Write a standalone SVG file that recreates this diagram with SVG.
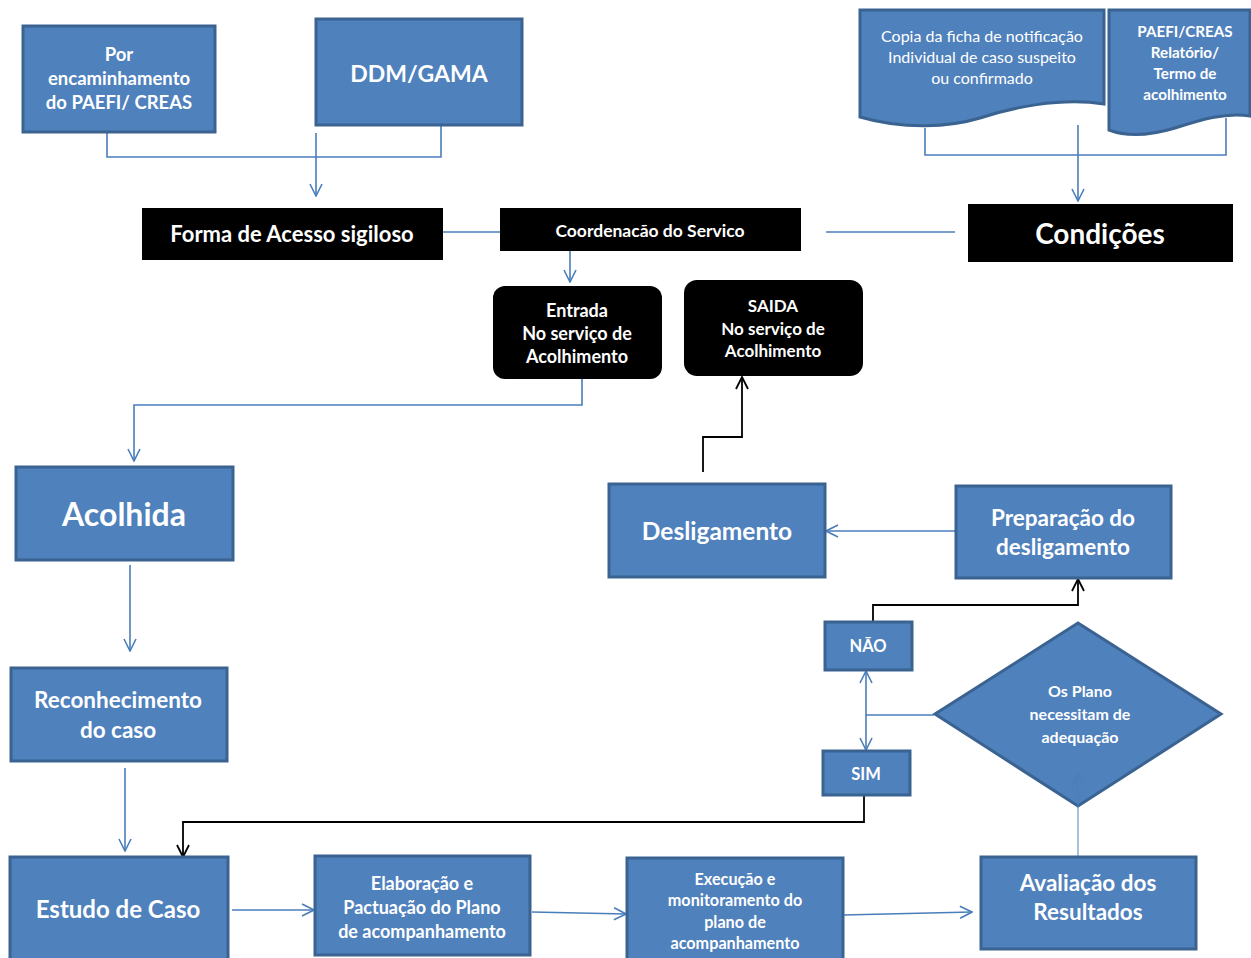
<svg xmlns="http://www.w3.org/2000/svg" width="1251" height="958" viewBox="0 0 1251 958">
<defs>
<marker id="ab" viewBox="0 0 14 14" refX="13" refY="7" markerWidth="14" markerHeight="14" markerUnits="userSpaceOnUse" orient="auto">
<path d="M1,1 L13,7 L1,13" fill="none" stroke="#4A7EBB" stroke-width="1.6"/>
</marker>
<marker id="ak" viewBox="0 0 14 14" refX="13" refY="7" markerWidth="14" markerHeight="14" markerUnits="userSpaceOnUse" orient="auto">
<path d="M1,1 L13,7 L1,13" fill="none" stroke="#000" stroke-width="1.8"/>
</marker>
</defs>
<style>
.b{fill:#4F81BD;stroke:#3A6391;stroke-width:3}
.k{fill:#000}
.t{font-family:Lato,"Open Sans",sans-serif;font-weight:bold;fill:#fff;text-anchor:middle}
.r{font-family:Lato,"Open Sans",sans-serif;font-weight:normal;fill:#fff;text-anchor:middle}
.cb{fill:none;stroke:#4A7EBB;stroke-width:1.6}
.ck{fill:none;stroke:#000;stroke-width:1.8}
</style>
<rect width="1251" height="958" fill="#fff"/>
<g id="connectors">
<path class="cb" d="M107,133 V157 H441 V125"/>
<path class="cb" d="M316,133 V196" marker-end="url(#ab)"/>
<path class="cb" d="M925,128 V155 H1226 V118"/>
<path class="cb" d="M1078,125 V201" marker-end="url(#ab)"/>
<path class="cb" d="M443,232 H500"/>
<path class="cb" d="M826,232 H955"/>
<path class="cb" d="M570,251 V282" marker-end="url(#ab)"/>
<path class="cb" d="M582,379 V405 H134 V461" marker-end="url(#ab)"/>
<path class="cb" d="M130,565 V651" marker-end="url(#ab)"/>
<path class="cb" d="M125,768 V851" marker-end="url(#ab)"/>
<path class="cb" d="M232,910 H314" marker-end="url(#ab)"/>
<path class="cb" d="M532,912 L626,914" marker-end="url(#ab)"/>
<path class="cb" d="M843,915 L972,912" marker-end="url(#ab)"/>
<path class="cb" d="M934,715 H866"/>
<path class="cb" d="M866,715 V671" marker-end="url(#ab)"/>
<path class="cb" d="M866,715 V750" marker-end="url(#ab)"/>
<path class="cb" d="M955,531 H826" marker-end="url(#ab)"/>
<path class="ck" d="M873,622 V605 H1078 V579" marker-end="url(#ak)"/>
<path class="ck" d="M703,472 V437 H742 V377" marker-end="url(#ak)"/>
<path class="ck" d="M864,785 V822 H183 V857" marker-end="url(#ak)"/>
</g>
<g id="por">
<rect class="b" x="23" y="26" width="192" height="106"/>
<text class="t" font-size="18.5"><tspan x="119" y="61">Por</tspan><tspan x="119" y="85">encaminhamento</tspan><tspan x="119" y="109">do PAEFI/ CREAS</tspan></text>
</g>
<g id="ddm">
<rect class="b" x="316" y="19" width="206" height="106"/>
<text class="t" font-size="23" x="419" y="82">DDM/GAMA</text>
</g>
<g id="copia">
<path class="b" d="M860,10 H1104 V104 C1060,97 1010,108 980,118 C950,127 905,130 860,117 Z"/>
<text class="r" font-size="16"><tspan x="982" y="42">Copia da ficha de notificação</tspan><tspan x="982" y="63">Individual de caso suspeito</tspan><tspan x="982" y="84">ou confirmado</tspan></text>
</g>
<g id="paefi">
<path class="b" d="M1109,10 H1250 V116 C1225,112 1200,120 1175,128 C1155,134 1130,138 1109,130 Z"/>
<text class="t" font-size="15.2"><tspan x="1185" y="37">PAEFI/CREAS</tspan><tspan x="1185" y="58">Relatório/</tspan><tspan x="1185" y="79">Termo de</tspan><tspan x="1185" y="100">acolhimento</tspan></text>
</g>
<g id="forma">
<rect class="k" x="142" y="208" width="301" height="52"/>
<text class="t" font-size="22" x="292" y="242">Forma de Acesso sigiloso</text>
</g>
<g id="coord">
<rect class="k" x="500" y="208" width="301" height="43"/>
<text class="t" font-size="17.5" x="650" y="237">Coordenacão do Servico</text>
</g>
<g id="condicoes">
<rect class="k" x="968" y="204" width="265" height="58"/>
<text class="t" font-size="28" x="1100" y="244">Condições</text>
</g>
<g id="entrada">
<rect class="k" x="493" y="286" width="169" height="93" rx="12"/>
<text class="t" font-size="18"><tspan x="577" y="317">Entrada</tspan><tspan x="577" y="340">No serviço de</tspan><tspan x="577" y="363">Acolhimento</tspan></text>
</g>
<g id="saida">
<rect class="k" x="684" y="280" width="179" height="96" rx="13"/>
<text class="t" font-size="17"><tspan x="773" y="312">SAIDA</tspan><tspan x="773" y="335">No serviço de</tspan><tspan x="773" y="357">Acolhimento</tspan></text>
</g>
<g id="acolhida">
<rect class="b" x="16" y="467" width="217" height="93"/>
<text class="t" font-size="32" x="124" y="526">Acolhida</text>
</g>
<g id="reconhecimento">
<rect class="b" x="11" y="668" width="216" height="93"/>
<text class="t" font-size="22.5"><tspan x="118" y="708">Reconhecimento</tspan><tspan x="118" y="738">do caso</tspan></text>
</g>
<g id="desligamento">
<rect class="b" x="609" y="484" width="216" height="93"/>
<text class="t" font-size="24.5" x="717" y="540">Desligamento</text>
</g>
<g id="preparacao">
<rect class="b" x="956" y="486" width="215" height="92"/>
<text class="t" font-size="22.5"><tspan x="1063" y="526">Preparação do</tspan><tspan x="1063" y="555">desligamento</tspan></text>
</g>
<g id="nao">
<rect class="b" x="825" y="622" width="87" height="48"/>
<text class="t" font-size="16.5" x="868" y="652">NÃO</text>
</g>
<g id="sim">
<rect class="b" x="823" y="751" width="87" height="44"/>
<text class="t" font-size="16.5" x="866" y="780">SIM</text>
</g>
<g id="decisao">
<path class="b" d="M1078,623 L1221,714 L1078,806 L935,714 Z"/>
<text class="t" font-size="16"><tspan x="1080" y="697">Os Plano</tspan><tspan x="1080" y="720">necessitam de</tspan><tspan x="1080" y="743">adequação</tspan></text>
</g>
<g id="link-avaliacao-decisao">
<path class="cb" d="M1078,857 V774" stroke-opacity="0.6" marker-end="url(#ab)"/>
</g>
<g id="estudo">
<rect class="b" x="10" y="857" width="218" height="104"/>
<text class="t" font-size="24" x="118" y="918">Estudo de Caso</text>
</g>
<g id="elaboracao">
<rect class="b" x="315" y="856" width="215" height="99"/>
<text class="t" font-size="18"><tspan x="422" y="890">Elaboração e</tspan><tspan x="422" y="914">Pactuação do Plano</tspan><tspan x="422" y="938">de acompanhamento</tspan></text>
</g>
<g id="execucao">
<rect class="b" x="627" y="858" width="216" height="102"/>
<text class="t" font-size="16.2"><tspan x="735" y="885">Execução e</tspan><tspan x="735" y="906">monitoramento do</tspan><tspan x="735" y="928">plano de</tspan><tspan x="735" y="949">acompanhamento</tspan></text>
</g>
<g id="avaliacao">
<rect class="b" x="981" y="857" width="215" height="92"/>
<text class="t" font-size="22.5"><tspan x="1088" y="891">Avaliação dos</tspan><tspan x="1088" y="920">Resultados</tspan></text>
</g>
</svg>
